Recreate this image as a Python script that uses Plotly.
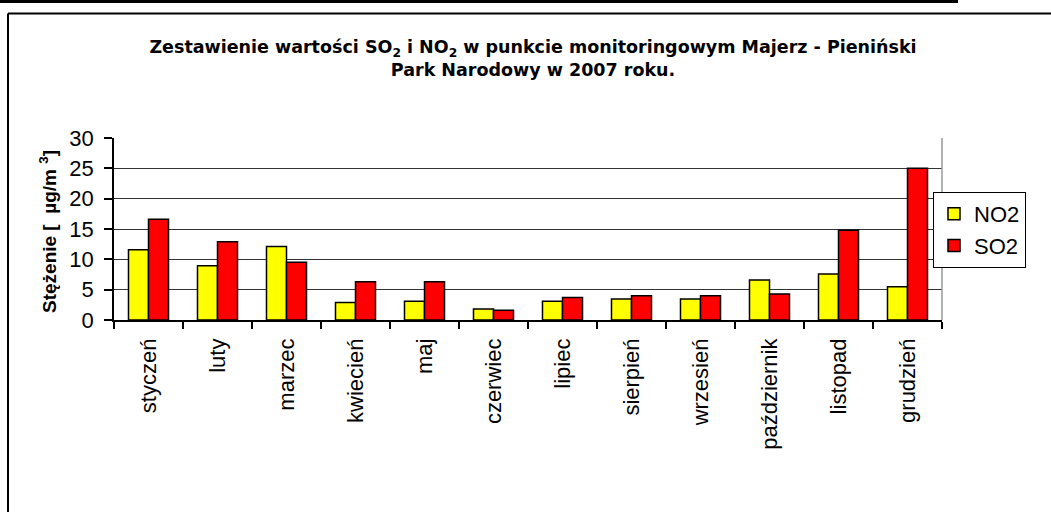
import plotly.graph_objects as go

months = ["styczeń", "luty", "marzec", "kwiecień", "maj", "czerwiec", "lipiec",
          "sierpień", "wrzesień", "październik", "listopad", "grudzień"]
no2 = [11.6, 8.95, 12.1, 2.9, 3.1, 1.8, 3.1, 3.45, 3.45, 6.6, 7.6, 5.5]
so2 = [16.6, 12.9, 9.5, 6.3, 6.3, 1.6, 3.7, 4.0, 4.0, 4.3, 14.8, 25.0]
y_ticks = [0, 5, 10, 15, 20, 25, 30]

W, H = 1051, 512
ML, MR, MT, MB = 114, 109, 138, 192
PW, PH = W - ML - MR, H - MT - MB

def px_x(x):
    return (x - ML) / PW

def px_y(y):
    return (H - MB - y) / PH

FONT = "Liberation Sans, Arial, sans-serif"

fig = go.Figure()
fig.add_trace(go.Bar(x=months, y=no2, name="NO2",
                     marker=dict(color="#FFFF00", line=dict(color="black", width=1.5))))
fig.add_trace(go.Bar(x=months, y=so2, name="SO2",
                     marker=dict(color="#FF0000", line=dict(color="black", width=1.5))))

shapes = [
    dict(type="rect", xref="paper", yref="paper", x0=px_x(0), x1=px_x(958),
         y0=px_y(3), y1=px_y(0), fillcolor="black", line=dict(width=0), layer="above"),
    dict(type="line", xref="paper", yref="paper", x0=px_x(8), x1=px_x(1052),
         y0=px_y(13.5), y1=px_y(13.5), line=dict(color="black", width=2)),
    dict(type="line", xref="paper", yref="paper", x0=px_x(8), x1=px_x(8),
         y0=px_y(13.5), y1=px_y(515), line=dict(color="black", width=2)),
    dict(type="line", xref="paper", yref="paper", x0=1, x1=1, y0=0, y1=1,
         line=dict(color="#999999", width=1.5)),
]

fig.update_layout(
    width=W, height=H,
    margin=dict(l=ML, r=MR, t=MT, b=MB),
    paper_bgcolor="white", plot_bgcolor="white",
    barmode="group", bargap=0.42, bargroupgap=0,
    title=dict(
        text="Zestawienie wartości SO<sub>2</sub> i NO<sub>2</sub> w punkcie monitoringowym Majerz - Pieniński<br>Park Narodowy w 2007 roku.",
        x=533 / W, xanchor="center", y=1 - 53 / H, yanchor="top",
        font=dict(family="DejaVu Sans, sans-serif", size=17.5, color="black", weight="bold"),
    ),
    font=dict(family=FONT, color="black"),
    xaxis=dict(
        type="category", tickangle=-90, tickfont=dict(size=22, family=FONT, color="black"),
        showline=True, linecolor="black", linewidth=1.5,
        ticks="outside", tickson="boundaries", ticklen=7, tickcolor="black", tickwidth=1.5,
        showgrid=False, ticklabelstandoff=8,
    ),
    yaxis=dict(
        range=[0, 30], tickvals=y_ticks, tickfont=dict(size=22, family=FONT, color="black"),
        showline=True, linecolor="black", linewidth=1.5,
        ticks="outside", ticklen=8, tickcolor="black", tickwidth=1.5,
        showgrid=True, gridcolor="#333333", gridwidth=1, zeroline=False,
        ticklabelstandoff=6,
    ),
    legend=dict(
        x=px_x(933), y=px_y(192), xanchor="left", yanchor="top",
        font=dict(size=22, family=FONT, color="black"),
        bordercolor="black", borderwidth=1, bgcolor="white",
        itemwidth=30, tracegroupgap=0,
    ),
    shapes=shapes,
    annotations=[dict(
        text="<b>Stężenie [  µg/m <sup>3</sup>]</b>", xref="paper", yref="paper",
        x=px_x(48), y=px_y(232), xanchor="center", yanchor="middle", textangle=-90,
        showarrow=False, font=dict(size=19, family=FONT, color="black"),
    )],
)

fig.write_html("out.html")
